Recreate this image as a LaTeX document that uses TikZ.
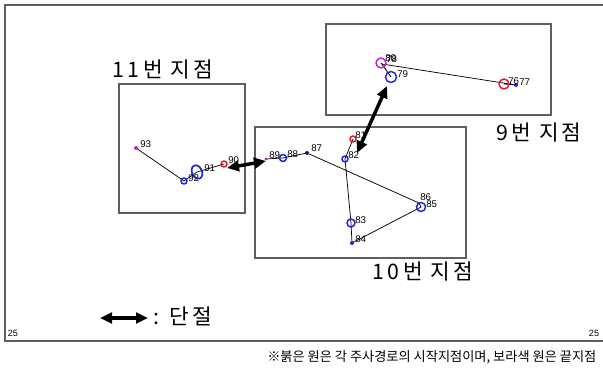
\documentclass[tikz,border=0pt]{standalone}
\usepackage{fontspec}
\setmainfont{Noto Sans CJK KR}
\newfontfamily\widefont[LetterSpace=15]{Noto Sans CJK KR}
\newfontfamily\numfont{Liberation Sans}
\usetikzlibrary{arrows.meta}

\begin{document}
\begin{tikzpicture}[x=0.75pt, y=-0.75pt, >={Triangle[length=9pt, width=8pt]},
        boxline/.style={draw=boxgray, line width=0.8pt},
        route/.style={black, line width=0.55pt},
        ring/.style={line width=1.1pt},
        ptlabel/.style={font=\numfont\fontsize{7.3}{8}\selectfont, inner sep=0pt, anchor=base west},
        sitelabel/.style={font=\widefont\fontsize{16}{17}\selectfont, inner sep=0pt},
        cut/.style={<->, line width=2.6pt}]
    % Define Colors
    \definecolor{boxgray}{RGB}{95, 95, 95}
    \definecolor{startred}{RGB}{225, 30, 40}    % start points
    \definecolor{endviolet}{RGB}{200, 30, 210}  % end points
    \definecolor{midblue}{RGB}{30, 40, 215}
    \definecolor{navy}{RGB}{20, 20, 130}

    \useasboundingbox (0,0) rectangle (603,370);

    % Outer frame (cut at the right side)
    \draw[boxgray, line width=0.8pt] (610,5) -- (5,5) -- (5,341) -- (610,341);
    \node[font=\numfont\fontsize{6.8}{7}\selectfont, inner sep=0pt] (c25l) at (13,333) {25};
    \node[font=\numfont\fontsize{6.8}{7}\selectfont, inner sep=0pt] (c25r) at (594,333) {25};

    % Site boxes
    \draw[boxline] (119,84) rectangle (245,213);
    \draw[boxline] (255,127) rectangle (466,258);
    \draw[boxline] (326,24) rectangle (551,115);
    \node[sitelabel] (s11) at (163,70) {11번 지점};
    \node[sitelabel] (s9) at (539,133) {9번 지점};
    \node[sitelabel] (s10) at (423,272) {10번 지점};

    % Scan points
    \foreach \n/\x/\y in {76/504/84, 77/516/85, 78/382/64, 79/391/77, 80/381/63,
            81/353/139, 82/345/159, 83/351/223, 84/352/243, 85/421/207, 86/419/203,
            87/307/153, 88/283/158, 89/266/159,
            90/224/164, 91/197/172, 92/184/181, 93/136/148}
        \coordinate (p\n) at (\x,\y);

    % Routes
    \draw[route] (p76) -- (p77) -- (p78) -- (p79) -- (p80);
    \draw[route] (p81) -- (p82) -- (p83) -- (p84) -- (p85) -- (p86) -- (p87) -- (p88) -- (p89);
    \draw[route] (p90) -- (p91) -- (p92) -- (p93);

    % Markers
    \draw[ring, startred] (p76) circle (5);
    \draw[ring, startred] (p81) circle (3);
    \draw[ring, startred] (p90) circle (3);
    \draw[ring, endviolet] (p80) circle (5);
    \fill[endviolet] (p89) circle (1.6);
    \fill[endviolet] (p93) circle (2);
    \draw[ring, midblue] (p79) circle (5.5);
    \draw[ring, midblue] (p82) circle (3);
    \draw[ring, midblue] (p83) circle (4);
    \draw[ring, midblue] (p85) circle (4.5);
    \draw[ring, midblue] (p88) circle (3.5);
    \draw[ring, midblue] (p92) circle (3);
    \draw[line width=1.3pt, midblue, rotate around={25:(p91)}] (p91) ellipse (5 and 7);
    \fill[midblue] (p77) circle (2);
    \fill[midblue] (p84) circle (2);
    \fill[navy] (p87) circle (2);

    % Point labels
    \foreach \n/\dx/\dy in {76/4/1, 77/3/1, 78/4/-1, 79/6/1, 80/4/-1,
            81/2/0, 82/3/0, 83/4/1, 84/3/0, 85/5/1, 86/1/-2,
            87/4/-1, 88/4/0, 89/3/0, 90/4/0, 91/7/0, 92/4/1, 93/4/0}
        \node[ptlabel] (l\n) at ([shift={(\dx,\dy)}]p\n) {\n};

    % Disconnections
    \coordinate (a11) at (227,168);
    \coordinate (a10w) at (266,161);
    \coordinate (a10n) at (357,153);
    \coordinate (a9) at (387,86);
    \draw[cut] (a11) -- (a10w);
    \draw[cut] (a10n) -- (a9);

    % Legend
    \coordinate (k1) at (100,318);
    \coordinate (k2) at (148,318);
    \draw[cut] (k1) -- (k2);
    \node[font=\widefont\fontsize{16}{17}\selectfont, inner sep=0pt, anchor=west] (klab) at (153,316) {: 단절};

    % Footnote
    \node[font=\fontsize{9.9}{11}\selectfont, inner sep=0pt, anchor=west] (note) at (267,357)
        {※붉은 원은 각 주사경로의 시작지점이며, 보라색 원은 끝지점};
\end{tikzpicture}
\end{document}
